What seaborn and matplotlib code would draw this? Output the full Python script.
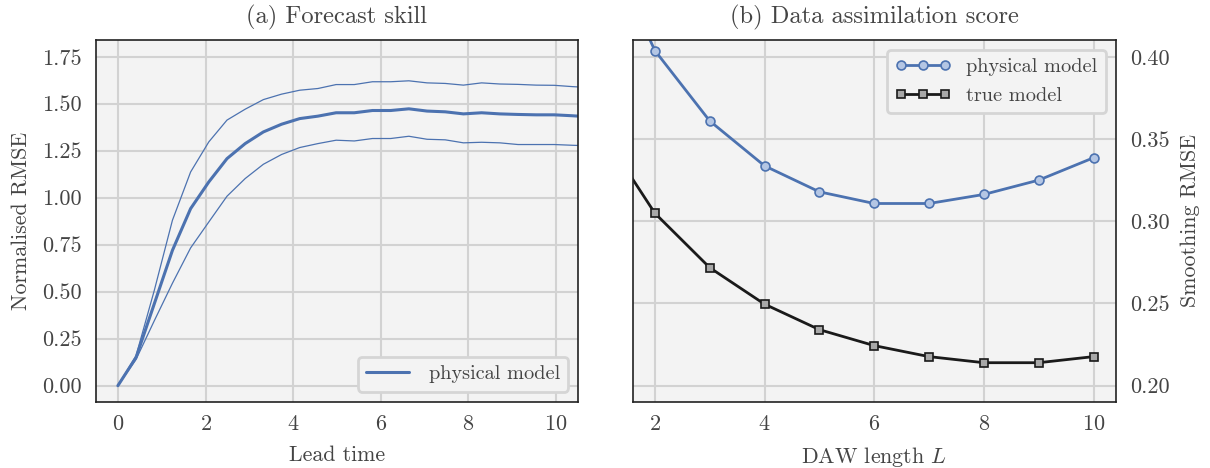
import numpy as np
import pandas as pd
import matplotlib
matplotlib.use("Agg")
import matplotlib.pyplot as plt
import seaborn as sns

# ---- data ----
dt = 0.415
lead_mean = [0.0, 0.15, 0.435, 0.72, 0.942, 1.084, 1.208, 1.288, 1.350, 1.391,
             1.421, 1.434, 1.452, 1.452, 1.464, 1.464, 1.473, 1.461, 1.457, 1.446,
             1.452, 1.446, 1.443, 1.441, 1.441, 1.436, 1.430]
lead_upper = [0.0, 0.160, 0.506, 0.880, 1.137, 1.297, 1.413, 1.471, 1.522, 1.551,
              1.572, 1.581, 1.602, 1.602, 1.617, 1.617, 1.622, 1.611, 1.608, 1.599,
              1.611, 1.605, 1.603, 1.599, 1.598, 1.591, 1.586]
lead_lower = [0.0, 0.140, 0.345, 0.545, 0.733, 0.871, 1.008, 1.102, 1.178, 1.230,
              1.267, 1.288, 1.306, 1.302, 1.315, 1.315, 1.327, 1.311, 1.308, 1.292,
              1.295, 1.292, 1.283, 1.283, 1.283, 1.279, 1.276]
lead_time = [dt * k for k in range(len(lead_mean))]

daw_L = [1, 2, 3, 4, 5, 6, 7, 8, 9, 10]
rmse_physical = [0.476, 0.4038, 0.361, 0.3337, 0.3179, 0.3108, 0.3108, 0.3163, 0.3250, 0.3386]
rmse_true = [0.356, 0.3049, 0.2718, 0.2496, 0.2341, 0.2244, 0.2177, 0.2140, 0.2140, 0.2177]

left_xticks = [0, 2, 4, 6, 8, 10]
left_yticks = [0.0, 0.25, 0.5, 0.75, 1.0, 1.25, 1.5, 1.75]
right_xticks = [2, 4, 6, 8, 10]
right_yticks = [0.20, 0.25, 0.30, 0.35, 0.40]

# ---- style ----
sns.set_theme(style="whitegrid")
plt.rcParams.update({
    "font.family": "serif",
    "font.serif": ["cmr10"],
    "mathtext.fontset": "cm",
    "axes.formatter.use_mathtext": True,
    "font.size": 8,
    "axes.titlesize": 8.8,
    "axes.labelsize": 7.9,
    "xtick.labelsize": 8,
    "ytick.labelsize": 8,
    "legend.fontsize": 7.3,
    "axes.facecolor": "#f3f3f3",
    "axes.edgecolor": "#222222",
    "axes.linewidth": 0.6,
    "grid.color": "#d2d2d2",
    "grid.linewidth": 0.75,
    "text.color": "#444444",
    "axes.labelcolor": "#444444",
    "xtick.color": "#444444",
    "ytick.color": "#444444",
    "xtick.major.size": 0,
    "ytick.major.size": 0,
    "xtick.major.pad": 4.6,
    "ytick.major.pad": 5.0,
})

blue = "#4C72B0"

fig = plt.figure(figsize=(6.05, 2.34), dpi=200)
ax1 = fig.add_axes([0.0793, 0.1417, 0.4777 - 0.0793, 0.9145 - 0.1417])
ax2 = fig.add_axes([0.5231, 0.1417, 0.9223 - 0.5231, 0.9145 - 0.1417])

df_lead = pd.DataFrame({"t": lead_time, "mean": lead_mean,
                        "upper": lead_upper, "lower": lead_lower})

sns.lineplot(data=df_lead, x="t", y="upper", ax=ax1, color=blue, lw=0.45, legend=False)
sns.lineplot(data=df_lead, x="t", y="lower", ax=ax1, color=blue, lw=0.45, legend=False)
sns.lineplot(data=df_lead, x="t", y="mean", ax=ax1, color=blue, lw=1.1, label="physical model")

ax1.set_xlim(-0.5, 10.5)
ax1.set_ylim(-0.085, 1.839)
ax1.set_xticks(left_xticks)
ax1.set_yticks(left_yticks)
ax1.set_yticklabels([f"{v:.2f}" for v in left_yticks])
ax1.set_xlabel("Lead time")
ax1.set_ylabel("Normalised RMSE")
ax1.set_title("(a) Forecast skill")
leg1 = ax1.legend(loc="lower right", frameon=True, fancybox=True, handlelength=2.15,
                  handletextpad=0.95)
leg1.get_frame().set_facecolor("#f3f3f3")
leg1.get_frame().set_edgecolor("#d5d5d5")
leg1.get_frame().set_alpha(1)

df_daw = pd.DataFrame({"L": daw_L, "physical": rmse_physical, "true": rmse_true})
sns.lineplot(data=df_daw, x="L", y="physical", ax=ax2, color=blue, lw=1.0,
             marker="o", markersize=3.2, markerfacecolor="#b4c6e4",
             markeredgecolor=blue, markeredgewidth=0.6, label="physical model")
sns.lineplot(data=df_daw, x="L", y="true", ax=ax2, color="#1a1a1a", lw=1.0,
             marker="s", markersize=2.9, markerfacecolor="#a8a8a8",
             markeredgecolor="#1a1a1a", markeredgewidth=0.6, label="true model")

ax2.set_xlim(1.6, 10.41)
ax2.set_ylim(0.1903, 0.4102)
ax2.set_xticks(right_xticks)
ax2.set_yticks(right_yticks)
ax2.set_yticklabels([f"{v:.2f}" for v in right_yticks])
ax2.yaxis.tick_right()
ax2.yaxis.set_label_position("right")
ax2.set_xlabel("DAW length $L$")
ax2.set_ylabel("Smoothing RMSE")
ax2.set_title("(b) Data assimilation score")
leg2 = ax2.legend(loc="upper right", frameon=True, fancybox=True, numpoints=3,
                  handlelength=2.77, handletextpad=0.75)
leg2.get_frame().set_facecolor("#f3f3f3")
leg2.get_frame().set_edgecolor("#d5d5d5")
leg2.get_frame().set_alpha(1)

for ax in (ax1, ax2):
    for s in ax.spines.values():
        s.set_visible(True)
        s.set_color("#222222")
        s.set_linewidth(0.6)
    ax.grid(True)

fig.savefig("out.png", dpi=200)
